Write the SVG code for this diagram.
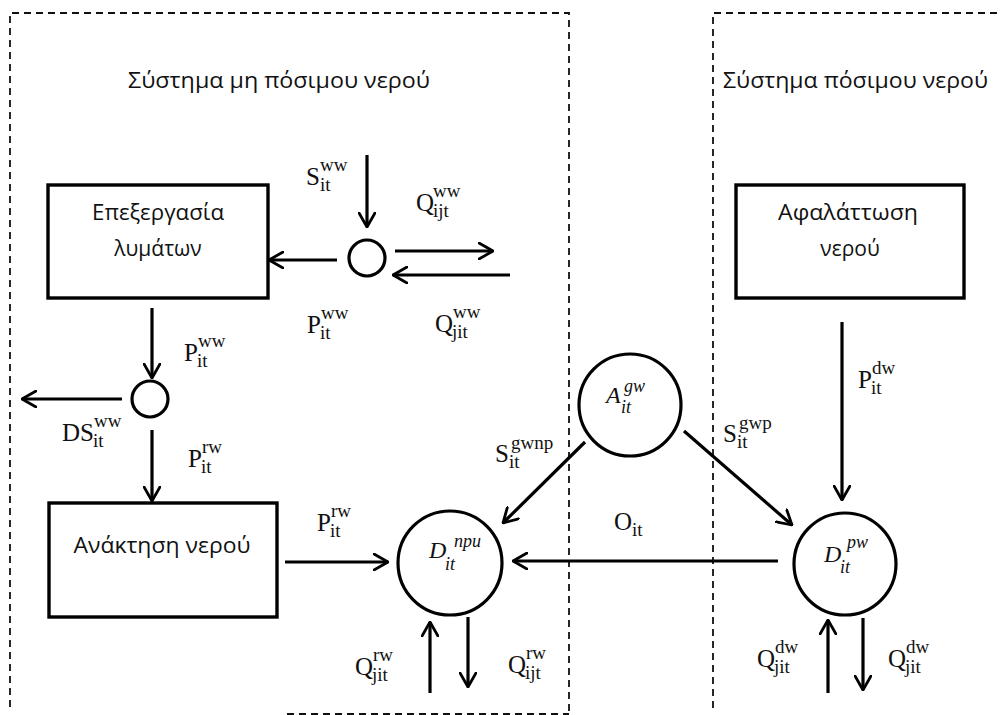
<svg xmlns="http://www.w3.org/2000/svg" width="1001" height="715" viewBox="0 0 1001 715">
<style>
.dash{fill:none;stroke:#111;stroke-width:1.8;stroke-dasharray:7 5}
.box{fill:#fff;stroke:#000;stroke-width:3.4}
.node{fill:#fff;stroke:#000;stroke-width:3.2}
.c{fill:none;stroke:#000;stroke-width:3.2;marker-end:url(#ah)}
.t{font-family:"Open Sans","Noto Sans",sans-serif;font-size:21px;fill:#111}
.tm{text-anchor:middle}
.m{font-family:"Liberation Serif","DejaVu Serif",serif;font-size:25px;fill:#111}
.s{font-family:"Liberation Serif","DejaVu Serif",serif;font-size:19px;fill:#111}
.mi{font-family:"Liberation Serif","DejaVu Serif",serif;font-style:italic;font-size:24px;fill:#111}
.si{font-family:"Liberation Serif","DejaVu Serif",serif;font-style:italic;font-size:18px;fill:#111}
</style>
<defs>
<marker id="ah" viewBox="0 0 16 18" refX="15" refY="9" markerWidth="16" markerHeight="18" markerUnits="userSpaceOnUse" orient="auto">
<path d="M1,1 L15,9 L1,17" fill="none" stroke="#000" stroke-width="2.8" stroke-linecap="round" stroke-linejoin="round"/>
</marker>
</defs>
<rect width="1001" height="715" fill="#fff"/>

<g id="regions">
<path class="dash" d="M10,707 V13 H569 V714 M287,714 H569"/>
<path class="dash" d="M713,708 V13 H1001"/>
<text class="t" x="128" y="88" textLength="302" lengthAdjust="spacingAndGlyphs">Σύστημα μη πόσιμου  νερού</text>
<text class="t" x="723" y="88" textLength="265" lengthAdjust="spacingAndGlyphs">Σύστημα πόσιμου νερού</text>
</g>

<g id="connectors">
<line class="c" x1="367" y1="155" x2="367" y2="227"/>
<line class="c" x1="337" y1="260" x2="269" y2="260"/>
<line class="c" x1="395" y1="251" x2="493" y2="251"/>
<line class="c" x1="510" y1="275" x2="393" y2="275"/>
<line class="c" x1="152" y1="308" x2="152" y2="378"/>
<line class="c" x1="122" y1="399" x2="22" y2="399"/>
<line class="c" x1="152" y1="430" x2="152" y2="501"/>
<line class="c" x1="285" y1="562" x2="388" y2="562"/>
<line class="c" x1="430" y1="693" x2="430" y2="622"/>
<line class="c" x1="468" y1="617" x2="468" y2="687"/>
<line class="c" x1="778" y1="561" x2="513" y2="561"/>
<line class="c" x1="585" y1="442" x2="503" y2="523"/>
<line class="c" x1="684" y1="431" x2="792" y2="525"/>
<line class="c" x1="842" y1="322" x2="842" y2="500"/>
<line class="c" x1="828" y1="693" x2="828" y2="620"/>
<line class="c" x1="863" y1="618" x2="863" y2="690"/>
</g>

<g id="n-treatment">
<rect class="box" x="48" y="185" width="220" height="113"/>
<text class="t tm" x="158" y="220" textLength="132" lengthAdjust="spacingAndGlyphs">Επεξεργασία</text>
<text class="t tm" x="158" y="256">λυμάτων</text>
</g>

<g id="n-desal">
<rect class="box" x="736" y="185" width="228" height="113"/>
<text class="t tm" x="848" y="220" textLength="140" lengthAdjust="spacingAndGlyphs">Αφαλάττωση</text>
<text class="t tm" x="850" y="256">νερού</text>
</g>

<g id="n-recovery">
<rect class="box" x="49" y="503" width="228" height="114"/>
<text class="t tm" x="162" y="553" textLength="177" lengthAdjust="spacingAndGlyphs">Ανάκτηση  νερού</text>
</g>

<g id="n-junction1">
<circle class="node" cx="367" cy="258" r="18"/>
</g>
<g id="n-junction2">
<circle class="node" cx="150" cy="399" r="18"/>
</g>

<g id="n-A">
<circle class="node" cx="630" cy="405" r="51"/>
<text class="mi" x="606" y="403">A</text>
<text class="si" x="621" y="413">it</text>
<text class="si" x="624" y="392">gw</text>
</g>

<g id="n-Dnpu">
<circle class="node" cx="450" cy="563" r="52"/>
<text class="mi" x="429" y="558">D</text>
<text class="si" x="445" y="570">it</text>
<text class="si" x="454" y="547">npu</text>
</g>

<g id="n-Dpw">
<circle class="node" cx="845" cy="564" r="51"/>
<text class="mi" x="824" y="562">D</text>
<text class="si" x="840" y="573">it</text>
<text class="si" x="847" y="548">pw</text>
</g>

<g id="labels">
<text class="m" x="306" y="185">S</text><text class="s" x="320" y="191">it</text><text class="s" x="320" y="171">ww</text>
<text class="m" x="416" y="211">Q</text><text class="s" x="433" y="217">ijt</text><text class="s" x="433" y="197">ww</text>
<text class="m" x="307" y="333">P</text><text class="s" x="320" y="339">it</text><text class="s" x="321" y="319">ww</text>
<text class="m" x="435" y="332">Q</text><text class="s" x="452" y="338">jit</text><text class="s" x="453" y="318">ww</text>
<text class="m" x="184" y="361">P</text><text class="s" x="197" y="367">it</text><text class="s" x="198" y="347">ww</text>
<text class="m" x="62" y="441">DS</text><text class="s" x="93" y="447">it</text><text class="s" x="94" y="427">ww</text>
<text class="m" x="188" y="467">P</text><text class="s" x="201" y="473">it</text><text class="s" x="202" y="453">rw</text>
<text class="m" x="317" y="531">P</text><text class="s" x="330" y="537">it</text><text class="s" x="331" y="517">rw</text>
<text class="m" x="355" y="675">Q</text><text class="s" x="372" y="681">jit</text><text class="s" x="373" y="661">rw</text>
<text class="m" x="508" y="673">Q</text><text class="s" x="525" y="679">ijt</text><text class="s" x="526" y="659">rw</text>
<text class="m" x="614" y="530">O</text><text class="s" x="632" y="536">it</text>
<text class="m" x="495" y="462">S</text><text class="s" x="509" y="468">it</text><text class="s" x="511" y="449">gwnp</text>
<text class="m" x="723" y="442">S</text><text class="s" x="737" y="448">it</text><text class="s" x="739" y="429">gwp</text>
<text class="m" x="858" y="388">P</text><text class="s" x="871" y="394">it</text><text class="s" x="872" y="374">dw</text>
<text class="m" x="757" y="667">Q</text><text class="s" x="774" y="673">jit</text><text class="s" x="775" y="653">dw</text>
<text class="m" x="888" y="667">Q</text><text class="s" x="905" y="673">jit</text><text class="s" x="906" y="653">dw</text>
</g>
</svg>
